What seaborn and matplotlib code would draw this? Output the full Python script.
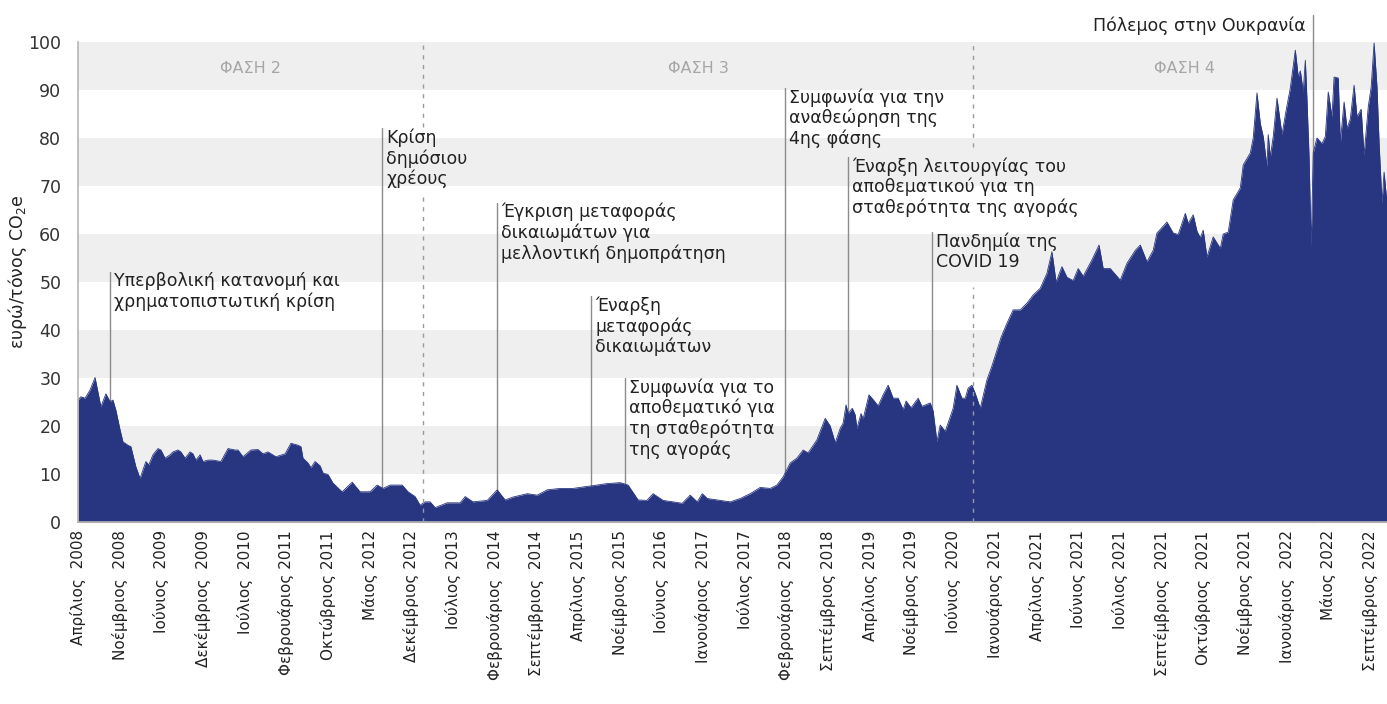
import matplotlib
matplotlib.use("Agg")
import matplotlib.pyplot as plt
import seaborn as sns
import pandas as pd

# τιμή δικαιωμάτων (ευρώ/τόνος CO2e), θέση σε μονάδες ετικέτας του άξονα x
phase2_pos = [
    0.00, 0.07, 0.17, 0.29, 0.41, 0.55, 0.67, 0.77, 0.84, 0.91,
    1.01, 1.08, 1.20, 1.27, 1.39, 1.49, 1.63, 1.70, 1.80, 1.92,
    1.99, 2.09, 2.21, 2.28, 2.40, 2.47, 2.57, 2.69, 2.76, 2.83,
    2.93, 3.00, 3.12, 3.24, 3.43, 3.60, 3.77, 3.84, 3.96, 4.15,
    4.32, 4.44, 4.56, 4.75, 4.97, 5.11, 5.28, 5.35, 5.40, 5.52,
    5.59, 5.69, 5.81, 5.88, 6.00, 6.12, 6.24, 6.34, 6.58, 6.77,
    7.01, 7.18, 7.32, 7.49, 7.78, 7.92, 8.09, 8.21,
]
phase2_eur = [
    25.4, 26.1, 25.8, 27.5, 30.1, 24.0, 26.7, 25.1, 25.4, 23.3,
    19.2, 16.7, 16.0, 15.7, 11.5, 9.1, 12.6, 11.9, 14.0, 15.3,
    15.0, 13.3, 14.0, 14.6, 15.0, 14.6, 13.3, 14.6, 14.2, 12.9,
    14.0, 12.6, 12.9, 12.9, 12.6, 15.3, 15.0, 15.0, 13.6, 15.0,
    15.1, 14.2, 14.6, 13.6, 14.2, 16.4, 16.0, 15.7, 13.3, 12.3,
    11.3, 12.6, 11.7, 10.2, 9.9, 8.1, 7.1, 6.3, 8.3, 6.3,
    6.3, 7.7, 7.0, 7.7, 7.7, 6.3, 5.3, 3.5,
]
phase3_pos = [
    8.33, 8.45, 8.57, 8.86, 9.17, 9.29, 9.48, 9.82, 10.06, 10.25,
    10.44, 10.78, 11.02, 11.26, 11.57, 11.88, 12.12, 12.46, 12.69, 13.01,
    13.20, 13.44, 13.65, 13.80, 14.04, 14.28, 14.50, 14.69, 14.86, 14.98,
    15.10, 15.41, 15.65, 15.89, 16.13, 16.37, 16.61, 16.77, 16.92, 17.09,
    17.25, 17.40, 17.52, 17.73, 17.93, 18.05, 18.17, 18.29, 18.36, 18.43,
    18.48, 18.58, 18.65, 18.69, 18.79, 18.84, 18.98, 19.08, 19.20, 19.32,
    19.44, 19.56, 19.68, 19.80, 19.87, 19.99, 20.16, 20.25, 20.45, 20.52,
    20.61, 20.69, 20.81, 20.93, 21.00, 21.09, 21.21, 21.29, 21.36, 21.45,
]
phase3_eur = [
    4.2, 4.2, 3.0, 4.0, 4.0, 5.3, 4.2, 4.5, 6.7, 4.6,
    5.2, 5.9, 5.6, 6.7, 7.0, 7.0, 7.3, 7.7, 8.0, 8.2,
    7.7, 4.6, 4.5, 5.9, 4.5, 4.2, 3.9, 5.6, 4.2, 5.9,
    4.9, 4.5, 4.2, 4.9, 5.9, 7.2, 7.0, 7.7, 9.4, 12.3,
    13.3, 15.0, 14.4, 17.1, 21.6, 20.0, 16.5, 19.5, 20.6, 24.4,
    22.6, 23.7, 22.3, 19.5, 22.6, 21.5, 26.5, 25.5, 24.2, 26.5,
    28.5, 25.8, 25.8, 23.4, 25.2, 23.8, 25.8, 24.1, 24.8, 23.1,
    16.7, 20.2, 18.9, 21.9, 23.7, 28.5, 25.8, 25.8, 27.9, 28.5,
]
phase4_pos = [
    21.53, 21.65, 21.81, 21.93, 22.15, 22.29, 22.44, 22.61, 22.77, 22.92,
    23.09, 23.25, 23.37, 23.47, 23.61, 23.73, 23.88, 24.00, 24.12, 24.33,
    24.50, 24.60, 24.77, 25.01, 25.17, 25.37, 25.49, 25.65, 25.80, 25.89,
    26.13, 26.28, 26.40, 26.57, 26.64, 26.76, 26.85, 26.93, 27.00, 27.09,
    27.24, 27.41, 27.48, 27.60, 27.72, 27.89, 27.96, 28.13, 28.20, 28.29,
    28.37, 28.44, 28.53, 28.56, 28.61, 28.68, 28.77, 28.89, 28.99, 29.09,
    29.21, 29.28, 29.33, 29.40, 29.45, 29.49, 29.54, 29.59, 29.64, 29.73,
    29.85, 29.93, 30.00, 30.09, 30.14, 30.24, 30.29, 30.38, 30.45, 30.53,
    30.62, 30.69, 30.79, 30.86, 30.96, 31.03, 31.10, 31.17, 31.22, 31.29,
    31.34, 31.41,
]
phase4_eur = [
    26.8, 23.7, 29.6, 32.5, 38.5, 41.4, 44.2, 44.2, 45.6, 47.3,
    48.7, 51.8, 56.3, 50.0, 53.2, 51.0, 50.3, 52.8, 51.2, 54.6,
    57.7, 52.8, 52.8, 50.4, 53.9, 56.6, 57.7, 54.2, 56.6, 60.2,
    62.5, 60.2, 59.9, 64.3, 62.2, 64.0, 60.6, 59.2, 60.8, 55.2,
    59.4, 57.0, 60.0, 60.4, 67.1, 69.6, 74.4, 76.9, 80.0, 89.4,
    83.0, 80.3, 74.0, 80.7, 76.0, 80.3, 88.3, 80.7, 85.8, 90.4,
    98.3, 92.7, 94.0, 89.6, 96.2, 88.0, 76.0, 57.3, 76.9, 80.0,
    78.8, 80.3, 89.6, 84.4, 92.7, 92.5, 79.0, 87.5, 82.0, 84.0,
    91.0, 84.4, 86.0, 76.4, 86.5, 90.6, 99.8, 90.6, 79.0, 66.4,
    72.9, 66.4,
]

tick_labels = [
    "Απρίλιος  2008", "Νοέμβριος  2008", "Ιούνιος  2009", "Δεκέμβριος  2009",
    "Ιούλιος  2010", "Φεβρουάριος 2011", "Οκτώβριος 2011", "Μάιος 2012",
    "Δεκέμβριος 2012", "Ιούλιος 2013", "Φεβρουάριος  2014", "Σεπτέμβριος  2014",
    "Απρίλιος 2015", "Νοέμβριος 2015", "Ιούνιος  2016", "Ιανουάριος  2017",
    "Ιούλιος 2017", "Φεβρουάριος  2018", "Σεπτέμβριος 2018", "Απρίλιος 2019",
    "Νοέμβριος 2019", "Ιούνιος  2020", "Ιανουάριος 2021", "Απρίλιος 2021",
    "Ιούνιος 2021", "Ιούλιος 2021", "Σεπτέμβριος  2021", "Οκτώβριος  2021",
    "Νοέμβριος 2021", "Ιανουάριος  2022", "Μάιος 2022", "Σεπτέμβριος 2022",
]

event_labels = [
    "Υπερβολική κατανομή και\nχρηματοπιστωτική κρίση",
    "Κρίση\nδημόσιου\nχρέους",
    "Έγκριση μεταφοράς\nδικαιωμάτων για\nμελλοντική δημοπράτηση",
    "Έναρξη\nμεταφοράς\nδικαιωμάτων",
    "Συμφωνία για το\nαποθεματικό για\nτη σταθερότητα\nτης αγοράς",
    "Συμφωνία για την\nαναθεώρηση της\n4ης φάσης",
    "Έναρξη λειτουργίας του\nαποθεματικού για τη\nσταθερότητα της αγοράς",
    "Πανδημία της\nCOVID 19",
]
event_pos = [0.77, 7.30, 10.06, 12.31, 13.13, 16.97, 18.48, 20.49]
event_top = [52.0, 82.0, 66.5, 47.0, 30.0, 90.4, 76.0, 60.4]

war_label = "Πόλεμος στην Ουκρανία"
war_pos = 29.64
war_top = 105.6

phase_names = ["ΦΑΣΗ 2", "ΦΑΣΗ 3", "ΦΑΣΗ 4"]
phase_centers = [4.13, 14.90, 26.54]
phase_breaks = [8.28, 21.48]

NAVY = "#283580"
GREY_LINE = "#8c8c8c"

sns.set_theme(style="white")
plt.rcParams['font.family'] = ['DejaVu Sans']

fig = plt.figure(figsize=(13.87, 7.04), dpi=100)
ax = fig.add_axes([0.0562, 0.2585, 0.9438, 0.6818])

# γκρι ζώνες
for lo in range(10, 100, 20):
    ax.axhspan(lo, lo + 10, color="#efefef", lw=0, zorder=0)

df = pd.DataFrame({
    "pos": phase2_pos + phase3_pos + phase4_pos,
    "price": phase2_eur + phase3_eur + phase4_eur,
})
ax.fill_between(df["pos"], 0, df["price"], color=NAVY, lw=0, zorder=2)
sns.lineplot(data=df, x="pos", y="price", color=NAVY, lw=0.6, ax=ax, zorder=2)

# γεγονότα
for lab, x, top in zip(event_labels, event_pos, event_top):
    ax.plot([x, x], [0, top], color=GREY_LINE, lw=1, zorder=1)
    ax.text(x + 0.1, top, lab, ha="left", va="top", fontsize=12.5,
            linespacing=1.15, color="#222222", zorder=4)

ax.plot([war_pos, war_pos], [0, war_top], color=GREY_LINE, lw=1, zorder=1, clip_on=False)
ax.text(war_pos - 0.19, war_top - 0.3, war_label, ha="right", va="top",
        fontsize=12.5, color="#222222", zorder=4)

# όρια φάσεων
dash_segments = [[(0, 68.5), (82.3, 100)], [(0, 49.0), (78.1, 100)]]
for x, segs in zip(phase_breaks, dash_segments):
    for y0, y1 in segs:
        ax.plot([x, x], [y0, y1], color="#9a9a9a", lw=1, ls=(0, (3, 4)), zorder=3)

for name, x in zip(phase_names, phase_centers):
    ax.text(x, 94.5, name, ha="center", va="center", fontsize=11.5, color="#a6a6a6", zorder=4)

ax.set_xlim(0, 31.41)
ax.set_ylim(0, 100)
ax.set_xticks(range(len(tick_labels)))
ax.set_xticklabels(tick_labels, rotation=90, fontsize=11, color="#222222", va="top")
ax.set_yticks(range(0, 101, 10))
ax.set_yticklabels([str(v) for v in range(0, 101, 10)], fontsize=12.5, color="#333333")
ax.tick_params(axis="x", length=0, pad=6)
ax.tick_params(axis="y", length=0, pad=12)
ax.set_xlabel("")
ax.set_ylabel("")

for side in ["top", "right"]:
    ax.spines[side].set_visible(False)
for side in ["left", "bottom"]:
    ax.spines[side].set_color("#b5b5b5")
    ax.spines[side].set_linewidth(1.2)

fig.text(18 / 1387, 1 - 272 / 704, "ευρώ/τόνος CO$_2$e", rotation=90,
         ha="center", va="center", fontsize=12.5, color="#222222")

fig.savefig("out.png", dpi=100)
